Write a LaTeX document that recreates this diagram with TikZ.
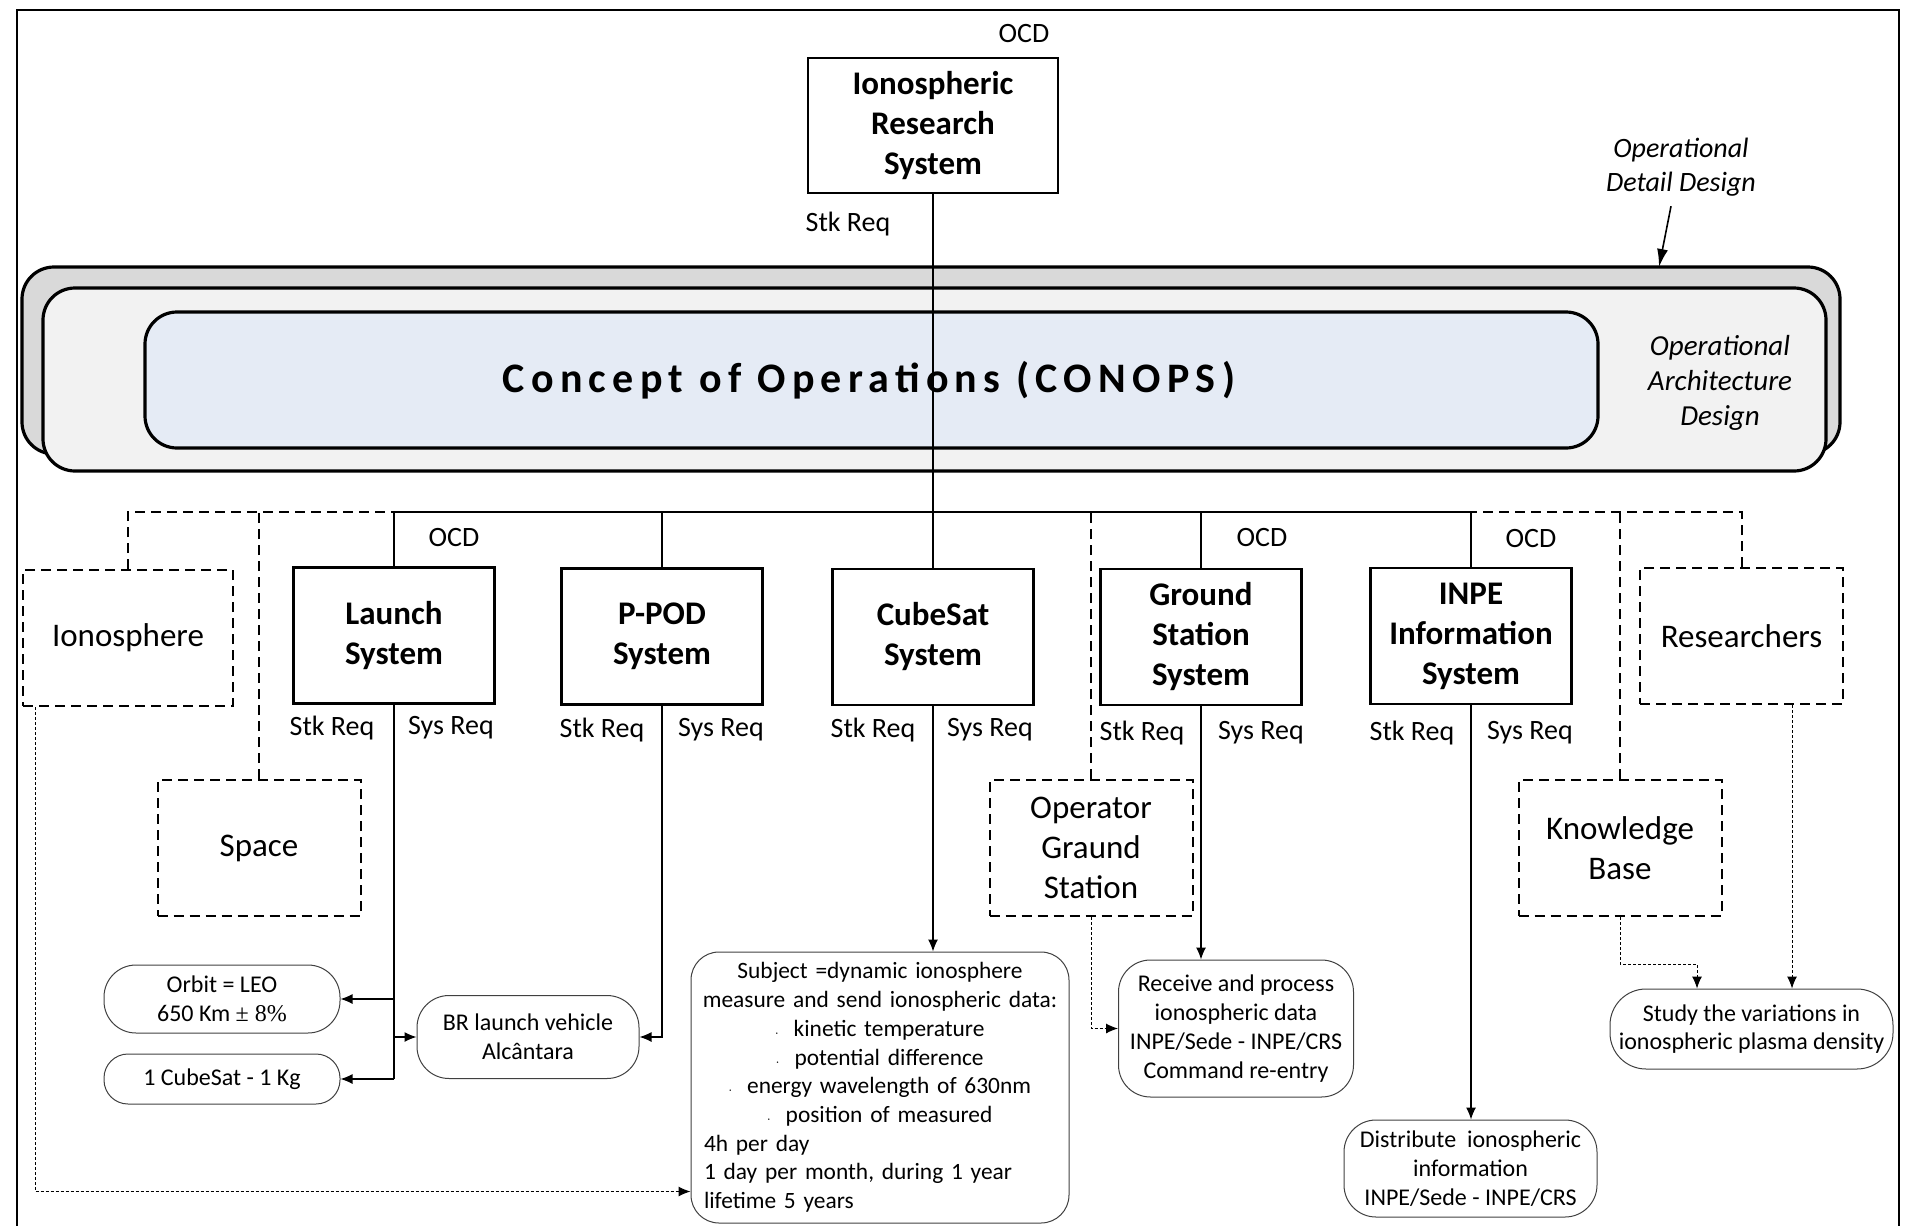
\documentclass[tikz,border=0pt]{standalone}
\usepackage{fontspec}
\setmainfont{Carlito}
\newfontfamily\timesfont{Liberation Serif}
\usetikzlibrary{arrows.meta,calc}

\definecolor{backgray}{HTML}{D9D9D9}
\definecolor{midgray}{HTML}{F2F2F2}
\definecolor{conopsblue}{HTML}{E5EBF5}

\tikzset{
	sysbox/.style={draw,line width=1.3pt,minimum width=100.5pt,minimum height=68pt,align=center,font=\fontsize{16.5}{20}\selectfont\bfseries},
	envbox/.style={draw,line width=1pt,dash pattern=on 5pt off 3pt,minimum width=101.5pt,minimum height=68pt,align=center,font=\fontsize{16.5}{20}\selectfont},
	reqlabel/.style={font=\fontsize{14}{16}\selectfont},
	taskbox/.style={draw=black!75,line width=0.5pt,rounded corners=16pt,align=center,font=\fontsize{12}{14.4}\selectfont},
	note/.style={align=center,font=\fontsize{14.5}{17.5}\selectfont\itshape},
	layer/.style={draw,line width=1.6pt,rounded corners=16pt},
	bar/.style={line width=1.3pt},
	link/.style={line width=1pt,dash pattern=on 5pt off 3pt},
	flow/.style={line width=0.6pt,-{Latex[length=6pt,width=5pt]}},
	hint/.style={line width=0.5pt,dash pattern=on 1.5pt off 1pt,-{Latex[length=6pt,width=5pt]}},
}

\begin{document}
\begin{tikzpicture}[x=0.5pt,y=-0.5pt]

\def\LAYERONE{backgray}
\def\LAYERTWO{midgray}
\def\LAYERTHREE{conopsblue}
	\useasboundingbox (0,0) rectangle (1912,1226);
	\draw[line width=1pt] (17,1226) -- (17,10) -- (1899,10) -- (1899,1226);

	% CONOPS layers
	\node[layer,fill=\LAYERONE,minimum width=909pt,minimum height=93.5pt] (back) at (931,360.5) {};
	\node[layer,fill=\LAYERTWO,minimum width=891.5pt,minimum height=91.5pt] (middle) at (934.5,379.5) {};
	\node[layer,fill=\LAYERTHREE,minimum width=726.5pt,minimum height=68pt] (inner) at (871.5,380) {};
	\node[font=\fontsize{21}{25}\selectfont\bfseries\addfontfeature{LetterSpace=15}] (conops) at (869,380) {Concept of Operations (CONOPS)};
	\node[note] (arch) at (1720,383) {Operational\\Architecture\\Design};
	\node[note,font=\fontsize{14}{17}\selectfont\itshape] (detail) at (1681,167) {Operational\\Detail Design};
	\coordinate (detailtip) at (1659,267);
	\draw[line width=0.8pt,-{Latex[length=9pt,width=5.5pt]}] ($(detail.south)+(-10,3)$) -- (detailtip);

	% top system
	\node[sysbox,minimum width=125pt,minimum height=67.5pt] (irs) at (933,125.5) {Ionospheric\\Research\\System};
	\node[reqlabel] (ocdtop) at (1024,34) {OCD};
	\node[reqlabel] (stktop) at (848,224) {Stk Req};
	\coordinate (bus) at (933,512);

	% systems
	\node[sysbox] (launch) at (394,635.5) {Launch\\System};
	\node[sysbox] (ppod) at (662,636.5) {P-POD\\System};
	\node[sysbox] (cubesat) at (933,637) {CubeSat\\System};
	\node[sysbox] (ground) at (1201,637) {Ground\\Station\\System};
	\node[sysbox] (inpe) at (1471,636) {INPE\\Information\\System};

	\node[reqlabel] (ocdlaunch) at (454,538) {OCD};
	\node[reqlabel] (ocdground) at (1262,538) {OCD};
	\node[reqlabel] (ocdinpe) at (1531,539) {OCD};

	\node[reqlabel] (stklaunch) at (332,728) {Stk Req};
	\node[reqlabel] (syslaunch) at (451,728) {Sys Req};
	\node[reqlabel] (stkppod) at (602,730) {Stk Req};
	\node[reqlabel] (sysppod) at (721,730) {Sys Req};
	\node[reqlabel] (stkcubesat) at (873,730) {Stk Req};
	\node[reqlabel] (syscubesat) at (990,730) {Sys Req};
	\node[reqlabel] (stkground) at (1142,733) {Stk Req};
	\node[reqlabel] (sysground) at (1261,733) {Sys Req};
	\node[reqlabel] (stkinpe) at (1412,733) {Stk Req};
	\node[reqlabel] (sysinpe) at (1530,733) {Sys Req};

	% environment
	\node[envbox,minimum width=105pt] (iono) at (128,638) {Ionosphere};
	\node[envbox] (res) at (1741.5,636) {Researchers};
	\node[envbox] (space) at (259,848) {Space};
	\node[envbox] (opgs) at (1091,848) {Operator\\Graund\\Station};
	\node[envbox] (kb) at (1620,848) {Knowledge\\Base};

	% tasks
	\node[taskbox,minimum width=118pt,minimum height=34pt] (orbit) at (222,999) {Orbit = LEO\\650 Km {\timesfont ± 8\%}};
	\node[taskbox,minimum width=118pt,minimum height=25pt,rounded corners=12pt] (onekg) at (222,1079) {1 CubeSat - 1 Kg};
	\node[taskbox,minimum width=111pt,minimum height=41.5pt] (brlv) at (528,1037) {BR launch vehicle\\Alcântara};
	\node[taskbox,rounded corners=14pt,inner xsep=2pt,minimum width=189pt,minimum height=135.5pt,text width=185pt,align=left,font=\fontsize{11.7}{14.35}\selectfont] (data) at (880,1087.5) {{\centering Subject =dynamic ionosphere\\
		measure and send ionospheric data:\\
		{\tiny·}~~kinetic temperature\\
		{\tiny·}~~potential difference\\
		{\tiny·}~~energy wavelength of 630nm\\
		{\tiny·}~~position of measured\par}
		\leftskip=4.5pt
		4h per day\\
		1 day per month, during 1 year\\
		lifetime 5 years\par};
	\node[taskbox,minimum width=117.5pt,minimum height=68.5pt] (receive) at (1236,1028.5) {Receive and process\\ionospheric data\\INPE/Sede - INPE/CRS\\Command re-entry};
	\node[taskbox,minimum width=126.5pt,minimum height=48.5pt] (distribute) at (1470.5,1168.5) {Distribute~ ionospheric\\information\\INPE/Sede - INPE/CRS};
	\node[taskbox,minimum width=141.5pt,minimum height=40pt,rounded corners=18pt] (study) at (1751.5,1029) {Study the variations in\\ionospheric plasma density};

	% tree
	\draw[line width=0.6pt] (irs.south) -- (irs.south |- bus);
	\draw[bar] (launch.north |- bus) -- (inpe.north |- bus);
	\draw[bar] (launch.north) -- (launch.north |- bus);
	\draw[bar] (ppod.north) -- (ppod.north |- bus);
	\draw[bar] (cubesat.north) -- (cubesat.north |- bus);
	\draw[bar] (ground.north) -- (ground.north |- bus);
	\draw[bar] (inpe.north) -- (inpe.north |- bus);
	\draw[link] (iono.north) |- (launch.north |- bus);
	\draw[link] (space.north) -- (space.north |- bus);
	\draw[link] (opgs.north) -- (opgs.north |- bus);
	\draw[link] (kb.north) -- (kb.north |- bus);
	\draw[link] (res.north) |- (inpe.north |- bus);

	% requirements down
	\draw[line width=0.6pt] (launch.south) -- (launch.south |- onekg.east);
	\draw[flow] (launch.south |- orbit.east) -- (orbit.east);
	\draw[flow] (launch.south |- brlv.west) -- (brlv.west);
	\draw[flow] (launch.south |- onekg.east) -- (onekg.east);
	\draw[flow] (ppod.south) |- (brlv.east);
	\draw[flow] (cubesat.south) -- (cubesat.south |- data.north);
	\draw[flow] (ground.south) -- (ground.south |- receive.north);
	\draw[flow] (inpe.south) -- (inpe.south |- distribute.north);

	% environment hints
	\coordinate (ionoout) at ($(iono.south west)+(13,0)$);
	\coordinate (resout) at ($(res.south)+(50.5,0)$);
	\draw[hint] (ionoout) |- ($(data.south west)+(0,-32)$);
	\draw[hint] (opgs.south) |- (receive.west);
	\draw[hint] (kb.south) -- ++(0,47) -| ($(study.north)+(-54.5,0)$);
	\draw[hint] (resout) -- (resout |- study.north);

\end{tikzpicture}
\end{document}
